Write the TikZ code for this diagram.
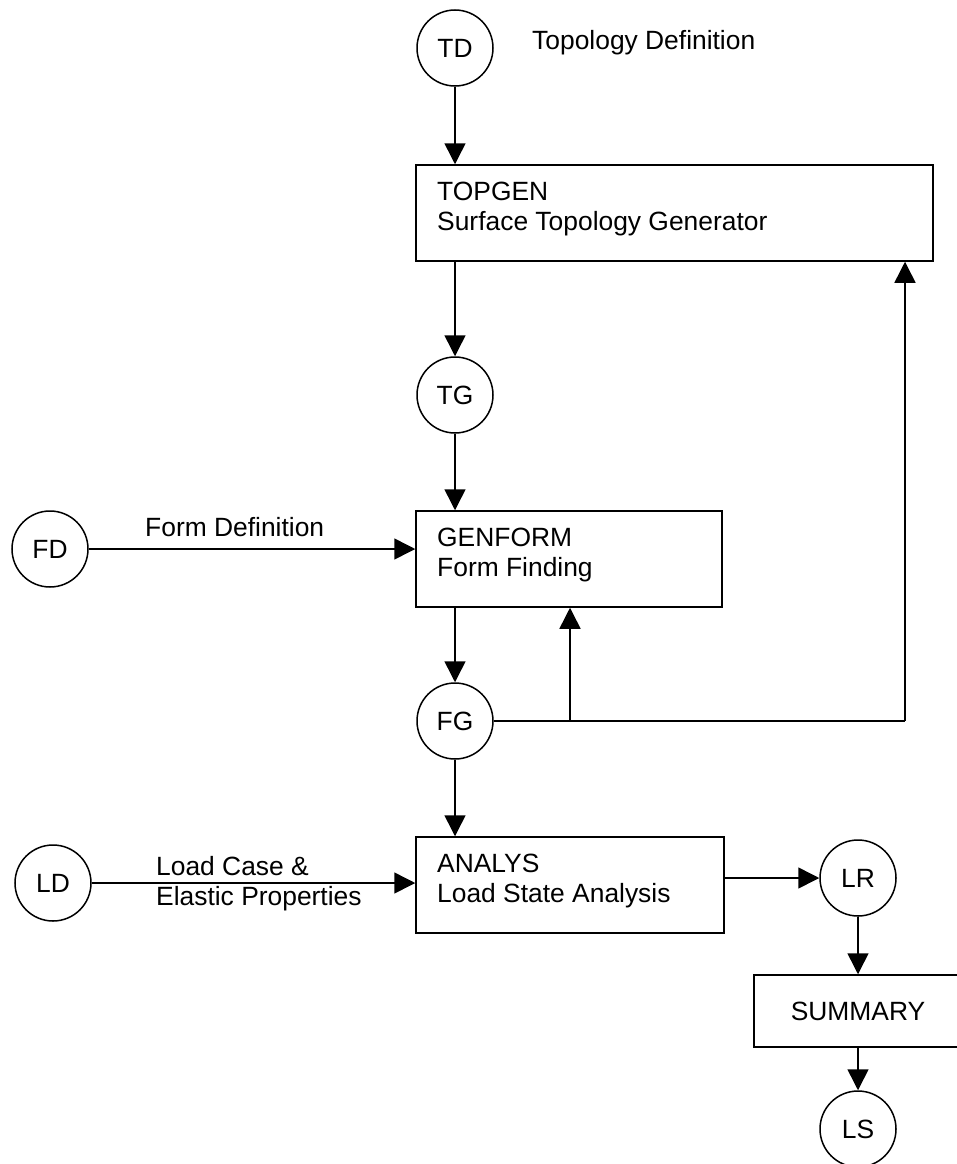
\documentclass[tikz,border=0pt]{standalone}
\usepackage{fontspec}
\setmainfont{Liberation Sans}
\usetikzlibrary{arrows.meta}
\begin{document}
\begin{tikzpicture}[x=1pt,y=-1pt,
  every node/.style={font=\fontsize{26.4}{29.5}\selectfont},
  datum/.style={draw,circle,line width=1.5pt,minimum size=76pt,inner sep=0pt},
  procbox/.style={draw,rectangle,line width=1.5pt,inner sep=0pt},
  boxtext/.style={anchor=base west,align=left,inner sep=0pt},
  lbl/.style={anchor=base west,align=left,inner sep=0pt},
  flow/.style={line width=1.5pt,-{Triangle[length=21pt,width=21pt]}},
  plain/.style={line width=1.5pt}]
\useasboundingbox (0,0) rectangle (957,1164);
\begin{scope}
\clip (0,0) rectangle (957,1164);
% circles
\node[datum] (TD) at (455,48) {TD};
\node[datum] (TG) at (455,395) {TG};
\node[datum] (FD) at (50,549) {FD};
\node[datum] (FG) at (455,721) {FG};
\node[datum] (LD) at (53,883) {LD};
\node[datum] (LR) at (858,878) {LR};
\node[datum] (LS) at (858,1129) {LS};
% boxes
\node[procbox,minimum width=517pt,minimum height=96pt] (TOPGEN) at (674.5,213) {};
\node[procbox,minimum width=306pt,minimum height=96pt] (GENFORM) at (569,559) {};
\node[procbox,minimum width=308pt,minimum height=96pt] (ANALYS) at (570,885) {};
\node[procbox,minimum width=208pt,minimum height=72pt] (SUMMARY) at (858,1011) {SUMMARY};
% box texts
\node[boxtext] (tTOPGEN) at (437,230) {TOPGEN\\Surface Topology Generator};
\node[boxtext] (tGENFORM) at (437,576) {GENFORM\\Form Finding};
\node[boxtext] (tANALYS) at (437,902) {ANALYS\\Load State Analysis};
% labels
\node[lbl] (lTD) at (532,50) {Topology Definition};
\node[lbl] (lFD) at (145,536) {Form Definition};
\node[lbl] (lLD) at (156,905) {Load Case \&\\Elastic Properties};
% connectors
\draw[flow] (TD) -- (TOPGEN.north -| TD);
\draw[flow] (TOPGEN.south -| TG) -- (TG);
\draw[flow] (TG) -- (GENFORM.north -| TG);
\draw[flow] (FD) -- (GENFORM.west |- FD);
\draw[flow] (GENFORM.south -| FG) -- (FG);
\draw[flow] (FG) -- (ANALYS.north -| FG);
\coordinate (branch) at (570,721);
\coordinate (corner) at (905,721);
\draw[plain] (FG) -- (corner);
\draw[flow] (corner) -- (TOPGEN.south -| corner);
\draw[flow] (branch) -- (GENFORM.south -| branch);
\draw[flow] (LD) -- (ANALYS.west |- LD);
\draw[flow] (ANALYS.east |- LR) -- (LR);
\draw[flow] (LR) -- (SUMMARY);
\draw[flow] (SUMMARY) -- (LS);
\end{scope}
\end{tikzpicture}
\end{document}
